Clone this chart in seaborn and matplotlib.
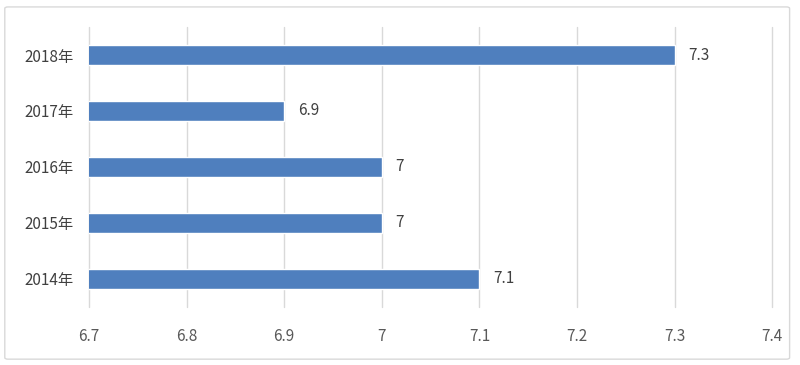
import matplotlib
matplotlib.use("Agg")
import matplotlib.pyplot as plt
import seaborn as sns
import pandas as pd
from matplotlib.patches import FancyBboxPatch

years = ["2018年", "2017年", "2016年", "2015年", "2014年"]
values = [7.3, 6.9, 7.0, 7.0, 7.1]
value_labels = ["7.3", "6.9", "7", "7", "7.1"]
x_ticks = [6.7, 6.8, 6.9, 7.0, 7.1, 7.2, 7.3, 7.4]
x_tick_labels = ["6.7", "6.8", "6.9", "7", "7.1", "7.2", "7.3", "7.4"]

sns.set_style("white")
plt.rcParams["font.family"] = ["Noto Sans CJK SC", "DejaVu Sans"]

df = pd.DataFrame({"year": years, "value": values})

fig = plt.figure(figsize=(8, 3.65), dpi=100)
ax = fig.add_axes([0.1113, 0.159, 0.854, 0.767])

sns.barplot(data=df, x="value", y="year", order=years, orient="h",
            color="#4F7FBE", saturation=1, width=0.36, ax=ax, zorder=3)

ax.set_xlim(6.7, 7.4)
ax.set_xticks(x_ticks)
ax.set_xticklabels(x_tick_labels)
ax.set_xlabel("")
ax.set_ylabel("")
ax.grid(axis="x", color="#D9D9D9", linewidth=1, zorder=0)
ax.grid(axis="y", visible=False)
for line in ax.get_xgridlines():
    line.set_clip_on(False)
for s in ax.spines.values():
    s.set_visible(False)
ax.tick_params(axis="x", length=0, pad=15, labelsize=11, labelcolor="#595959")
ax.tick_params(axis="y", length=0, pad=11, labelsize=11, labelcolor="#404040")

ax.bar_label(ax.containers[0], labels=value_labels, padding=10,
             fontsize=11, color="#404040")

frame = FancyBboxPatch((0.006, 0.016), 0.981, 0.965,
                       boxstyle="round,pad=0,rounding_size=0.004",
                       transform=fig.transFigure, fill=False,
                       edgecolor="#D9D9D9", linewidth=1)
fig.patches.append(frame)

fig.savefig("out.png", dpi=100, facecolor="white")
